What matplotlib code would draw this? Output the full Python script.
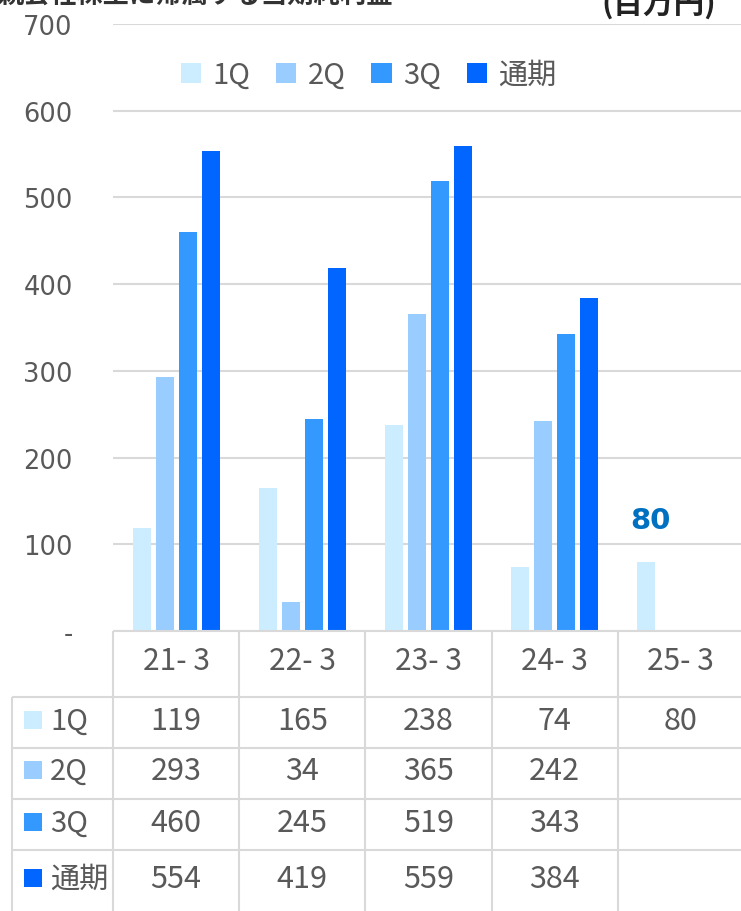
import matplotlib
matplotlib.use("Agg")
import matplotlib.pyplot as plt
from matplotlib.patches import Patch, Rectangle

plt.rcParams['font.family'] = ['Noto Sans CJK JP', 'DejaVu Sans']

# data
categories = ["21- 3", "22- 3", "23- 3", "24- 3", "25- 3"]
series_names = ["1Q", "2Q", "3Q", "通期"]
q1 = [119, 165, 238, 74, 80]
q2 = [293, 34, 365, 242, None]
q3 = [460, 245, 519, 343, None]
full_year = [554, 419, 559, 384, None]
yticks = [0, 100, 200, 300, 400, 500, 600, 700]
ytick_labels = ["-", "100", "200", "300", "400", "500", "600", "700"]
title = "親会社株主に帰属する当期純利益"
unit = "(百万円)"

series = [q1, q2, q3, full_year]
colors = ["#CCECFF", "#99CCFF", "#3399FF", "#0066FF"]
text_color = "#595959"
line_color = "#D9D9D9"

W, H = 741, 912
fig = plt.figure(figsize=(W / 100, H / 100), dpi=100)

# chart area in pixels
x0, cat_w = 113, 126.2
y_zero, y_top = 632, 25
ax = fig.add_axes([x0 / W, (H - y_zero) / H, 5 * cat_w / W, (y_zero - y_top) / H])

step = 23 / cat_w
bw = 18 / cat_w
for k, vals in enumerate(series):
    off = (k - 1.5) * step
    xs = [i + off for i, v in enumerate(vals) if v is not None]
    hs = [v for v in vals if v is not None]
    ax.bar(xs, hs, width=bw, color=colors[k], zorder=3)

# highlighted latest value
ax.annotate(str(q1[4]), (4 - 1.5 * step, q1[4]), xytext=(3, 24),
            textcoords='offset points', ha='center', va='baseline',
            fontsize=21, fontweight='bold', color='#0070C0',
            family='DejaVu Sans')

ax.set_xlim(-0.5, 4.5)
ax.set_ylim(0, 700)
ax.set_yticks(yticks)
ax.set_yticklabels(ytick_labels, family='DejaVu Sans', fontsize=18.5, color=text_color)
ax.set_xticks([])
ax.tick_params(axis='y', length=0, pad=29)
ax.yaxis.grid(True, color=line_color, linewidth=1.5, zorder=0)
for s in ax.spines.values():
    s.set_visible(False)

handles = [Patch(facecolor=c, edgecolor='none') for c in colors]
leg = ax.legend(handles, series_names, loc='upper center', ncol=4, frameon=False,
                bbox_to_anchor=(0.405, 0.984), fontsize=21, handlelength=0.69,
                handleheight=0.69, handletextpad=0.38, columnspacing=0.9)
for t in leg.get_texts():
    t.set_color(text_color)

# data table under the chart
tb = fig.add_axes([x0 / W, 0, 5 * cat_w / W, (H - y_zero) / H])
tb.set_xlim(-0.5, 4.5)
tb.set_ylim(H, y_zero)
tb.axis('off')

left = -0.5 - (x0 - 12) / cat_w
row_lines = [698, 749, 800, 851]
tb.hlines([y_zero], -0.5, 4.5, color=line_color, lw=1.5, clip_on=False)
tb.hlines(row_lines, left, 4.5, color=line_color, lw=1.5, clip_on=False)
tb.vlines([i - 0.5 for i in range(6)], y_zero, H + 5, color=line_color, lw=1.5, clip_on=False)
tb.vlines([left], row_lines[0], H + 5, color=line_color, lw=1.5, clip_on=False)

for i, c in enumerate(categories):
    tb.text(i, 670, c, ha='center', va='baseline', fontsize=21.5, color=text_color)

baselines = [730, 780, 832, 888]
for k, vals in enumerate(series):
    yb = baselines[k]
    tb.add_patch(Rectangle((left + 12 / cat_w, yb - 18), 18 / cat_w, 18,
                           facecolor=colors[k], edgecolor='none', clip_on=False))
    tb.text(left + 38 / cat_w, yb, series_names[k], ha='left', va='baseline',
            fontsize=21, color=text_color, clip_on=False)
    for i, v in enumerate(vals):
        if v is not None:
            tb.text(i, yb, str(v), ha='center', va='baseline', fontsize=22, color=text_color)

fig.text(-2 / W, 1 - 4 / H, title, ha='left', va='baseline', fontsize=19,
         fontweight='bold', color='#333333')
fig.text(601 / W, 1 - 13 / H, unit, ha='left', va='baseline', fontsize=22,
         fontweight='bold', color='#222222')

fig.savefig("out.png", dpi=100)
